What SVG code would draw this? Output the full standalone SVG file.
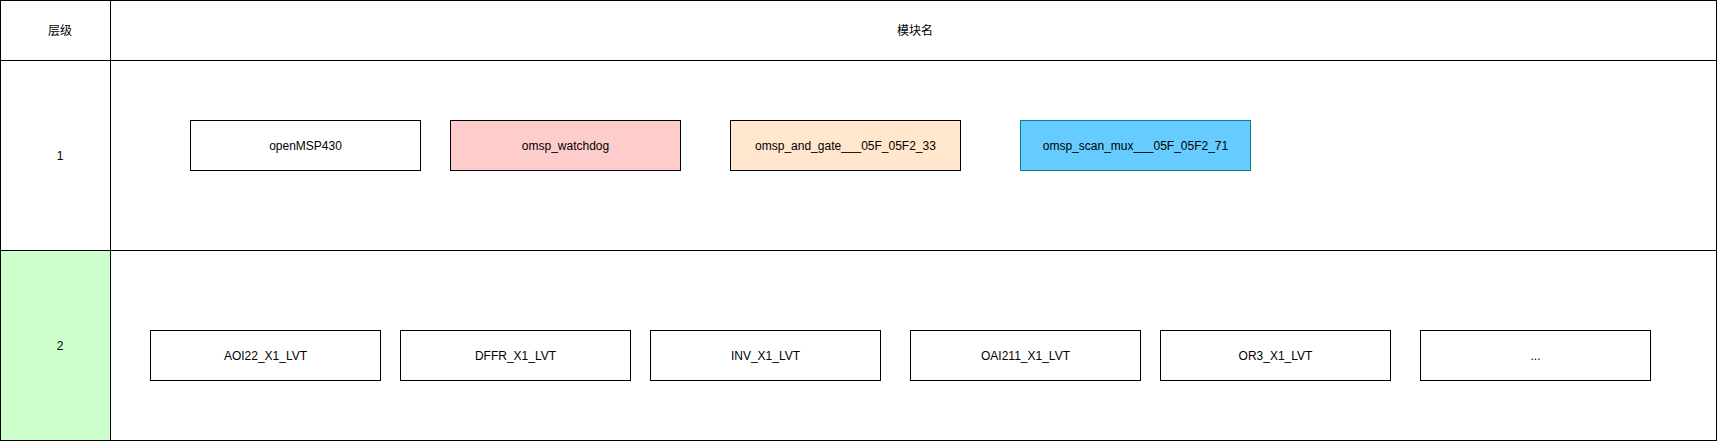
<svg xmlns="http://www.w3.org/2000/svg" width="1721" height="442" viewBox="0 0 1721 442">
<style>
.cell{fill:#ffffff;stroke:#000000;stroke-width:1}
.box{stroke:#000000;stroke-width:1}
.t{font-family:"Liberation Sans",Arial,"Noto Sans CJK SC",sans-serif;font-size:12px;fill:#000000;text-anchor:middle;dominant-baseline:central}
</style>
<rect width="1721" height="442" fill="#ffffff"/>
<g id="table">
  <rect class="cell" x="0.5" y="0.5" width="110" height="60"/>
  <rect class="cell" x="110.5" y="0.5" width="1606" height="60"/>
  <rect class="cell" x="0.5" y="60.5" width="110" height="190"/>
  <rect class="cell" x="110.5" y="60.5" width="1606" height="190"/>
  <rect class="cell" x="0.5" y="250.5" width="110" height="190" style="fill:#CCFFCC"/>
  <rect class="cell" x="110.5" y="250.5" width="1606" height="190"/>
  <text class="t" x="60" y="30.5">层级</text>
  <text class="t" x="915" y="30.5">模块名</text>
  <text class="t" x="60" y="155.5">1</text>
  <text class="t" x="60" y="345.5">2</text>
</g>
<g id="connectors"></g>
<g id="n-openMSP430"><rect class="box" x="190.5" y="120.5" width="230" height="50" fill="#ffffff"/><text class="t" x="305.5" y="145.5">openMSP430</text></g>
<g id="n-watchdog"><rect class="box" x="450.5" y="120.5" width="230" height="50" fill="#FFCCCC"/><text class="t" x="565.5" y="145.5">omsp_watchdog</text></g>
<g id="n-and-gate"><rect class="box" x="730.5" y="120.5" width="230" height="50" fill="#FFE6CC"/><text class="t" x="845.5" y="145.5">omsp_and_gate___05F_05F2_33</text></g>
<g id="n-scan-mux"><rect class="box" x="1020.5" y="120.5" width="230" height="50" fill="#66CCFF" style="stroke:#0E8088"/><text class="t" x="1135.5" y="145.5">omsp_scan_mux___05F_05F2_71</text></g>
<g id="n-aoi22"><rect class="box" x="150.5" y="330.5" width="230" height="50" fill="#ffffff"/><text class="t" x="265.5" y="355.5">AOI22_X1_LVT</text></g>
<g id="n-dffr"><rect class="box" x="400.5" y="330.5" width="230" height="50" fill="#ffffff"/><text class="t" x="515.5" y="355.5">DFFR_X1_LVT</text></g>
<g id="n-inv"><rect class="box" x="650.5" y="330.5" width="230" height="50" fill="#ffffff"/><text class="t" x="765.5" y="355.5">INV_X1_LVT</text></g>
<g id="n-oai211"><rect class="box" x="910.5" y="330.5" width="230" height="50" fill="#ffffff"/><text class="t" x="1025.5" y="355.5">OAI211_X1_LVT</text></g>
<g id="n-or3"><rect class="box" x="1160.5" y="330.5" width="230" height="50" fill="#ffffff"/><text class="t" x="1275.5" y="355.5">OR3_X1_LVT</text></g>
<g id="n-more"><rect class="box" x="1420.5" y="330.5" width="230" height="50" fill="#ffffff"/><text class="t" x="1535.5" y="355.5">...</text></g>
</svg>
